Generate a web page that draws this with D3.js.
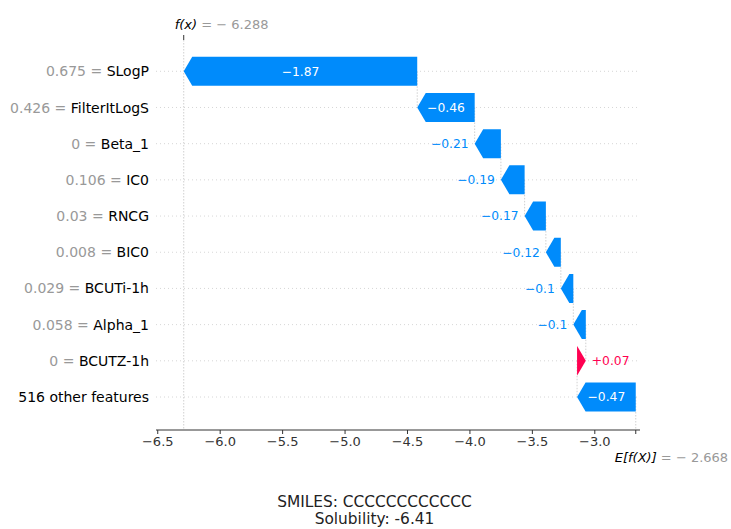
<!DOCTYPE html>
<html>
<head>
<meta charset="utf-8">
<title>waterfall</title>
<style>
  body { margin: 0; background: #fff; }
  svg { font-family: "DejaVu Sans", sans-serif; }
</style>
</head>
<body>
<script src="https://cdn.jsdelivr.net/npm/d3@7/dist/d3.min.js"></script>
<script>
var W = 731, H = 529;

// data
var features = ["SLogP", "FilterItLogS", "Beta_1", "IC0", "RNCG", "BIC0", "BCUTi-1h", "Alpha_1", "BCUTZ-1h", "516 other features"];
var featureValues = ["0.675", "0.426", "0", "0.106", "0.03", "0.008", "0.029", "0.058", "0", null];
var shapValues = [-1.87, -0.46, -0.21, -0.19, -0.17, -0.12, -0.1, -0.1, 0.07, -0.47];
var baseValue = -2.668;
var fxValue = -6.288;
var xTicks = [-6.5, -6.0, -5.5, -5.0, -4.5, -4.0, -3.5, -3.0];
var footer = ["SMILES: CCCCCCCCCCCC", "Solubility: -6.41"];

var blue = "#008bfb", red = "#ff0051";

var svg = d3.select("body").append("svg")
  .attr("width", W).attr("height", H);
svg.append("rect").attr("width", W).attr("height", H).attr("fill", "#fff");

var axTop = 40, axBottom = 430, axLeft = 156, axRight = 640;

var x = d3.scaleLinear().domain([-6.51, -2.634]).range([axLeft, axRight]);
var y = d3.scaleLinear().domain([0, features.length - 1]).range([71.3, 397]);
var barH = 29;

// cumulative positions, built from the bottom (base value) upward
var bars = [];
var run = baseValue;
for (var i = features.length - 1; i >= 0; i--) {
  var start = run, end = run + shapValues[i];
  bars[i] = { i: i, v: shapValues[i], start: start, end: end };
  run = end;
}

// row grid lines
svg.append("g").selectAll("line").data(features).enter().append("line")
  .attr("x1", axLeft).attr("x2", axRight)
  .attr("y1", function(d, i) { return y(i); })
  .attr("y2", function(d, i) { return y(i); })
  .attr("stroke", "#cccccc").attr("stroke-width", 0.8)
  .attr("stroke-dasharray", "1,3");

// f(x) and E[f(X)] lines
svg.append("line")
  .attr("x1", x(fxValue)).attr("x2", x(fxValue))
  .attr("y1", axTop).attr("y2", axBottom)
  .attr("stroke", "#bbbbbb").attr("stroke-width", 0.7).attr("stroke-dasharray", "1.5,1.5");
svg.append("line")
  .attr("x1", x(baseValue)).attr("x2", x(baseValue))
  .attr("y1", y(features.length - 1)).attr("y2", axBottom)
  .attr("stroke", "#bbbbbb").attr("stroke-width", 0.7).attr("stroke-dasharray", "1.5,1.5");

// connectors between rows
svg.append("g").selectAll("line").data(bars.slice(0, bars.length - 1)).enter().append("line")
  .attr("x1", function(d) { return x(d.start); })
  .attr("x2", function(d) { return x(d.start); })
  .attr("y1", function(d) { return y(d.i); })
  .attr("y2", function(d) { return y(d.i + 1); })
  .attr("stroke", "#bbbbbb").attr("stroke-width", 0.7).attr("stroke-dasharray", "1.5,1.5");

// arrow bars
function arrow(d) {
  var cy = y(d.i), t = cy - barH / 2, b = cy + barH / 2;
  var l = x(Math.min(d.start, d.end)), r = x(Math.max(d.start, d.end));
  var hl = Math.min(r - l, 8.5);
  if (d.v < 0) {
    return [[r, t], [l + hl, t], [l, cy], [l + hl, b], [r, b]];
  }
  return [[l, t], [r - hl, t], [r, cy], [r - hl, b], [l, b]];
}
svg.append("g").selectAll("polygon").data(bars).enter().append("polygon")
  .attr("points", function(d) { return arrow(d).join(" "); })
  .attr("fill", function(d) { return d.v < 0 ? blue : red; });

// bar labels
function fmt(v) {
  var s = Math.abs(v).toString();
  return (v < 0 ? "\u2212" : "+") + s;
}
svg.append("g").selectAll("text").data(bars).enter().append("text")
  .attr("font-size", 12.3)
  .attr("dy", "0.36em")
  .attr("y", function(d) { return y(d.i); })
  .text(function(d) { return fmt(d.v); })
  .each(function(d) {
    var t = d3.select(this);
    var l = x(Math.min(d.start, d.end)), r = x(Math.max(d.start, d.end));
    var tw = this.getComputedTextLength();
    if (tw + 6 < r - l) {
      t.attr("x", (l + r) / 2).attr("text-anchor", "middle").attr("fill", "#fff");
    } else if (d.v < 0) {
      t.attr("x", l - 6).attr("text-anchor", "end").attr("fill", blue);
    } else {
      t.attr("x", r + 6).attr("text-anchor", "start").attr("fill", red);
    }
  });

// feature labels
var fl = svg.append("g").selectAll("text").data(features).enter().append("text")
  .attr("x", 149)
  .attr("y", function(d, i) { return y(i); })
  .attr("dy", "0.36em")
  .attr("text-anchor", "end")
  .attr("font-size", 14);
fl.append("tspan").attr("fill", "#999999")
  .text(function(d, i) { return featureValues[i] === null ? "" : featureValues[i] + " = "; });
fl.append("tspan").attr("fill", "#000")
  .text(function(d) { return d; });

// bottom axis
var xAxis = d3.axisBottom(x).tickValues(xTicks).tickSize(4).tickPadding(3)
  .tickFormat(function(d) { return d3.format(".1f")(d).replace("-", "\u2212"); });
var gx = svg.append("g").attr("transform", "translate(0," + axBottom + ")").call(xAxis);
gx.select(".domain").attr("stroke", "#333").attr("d", "M" + axLeft + ",0H" + axRight);
gx.selectAll(".tick line").attr("stroke", "#333");
gx.selectAll(".tick text").attr("fill", "#333").attr("font-size", 13)
  .attr("font-family", "DejaVu Sans, sans-serif");

// base value tick + label
svg.append("line")
  .attr("x1", x(baseValue)).attr("x2", x(baseValue))
  .attr("y1", axBottom).attr("y2", axBottom + 4)
  .attr("stroke", "#333");
var el = svg.append("text").attr("x", x(baseValue) - 21).attr("y", 462).attr("font-size", 13);
el.append("tspan").attr("fill", "#000").attr("font-style", "italic").text("E[f(X)]");
el.append("tspan").attr("fill", "#999999").text(" = \u2212 " + Math.abs(baseValue).toFixed(3));

// f(x) tick + label
svg.append("line")
  .attr("x1", x(fxValue)).attr("x2", x(fxValue))
  .attr("y1", axTop - 5).attr("y2", axTop)
  .attr("stroke", "#333");
var ft = svg.append("text").attr("x", x(fxValue) - 9).attr("y", 29).attr("font-size", 13);
ft.append("tspan").attr("fill", "#000").attr("font-style", "italic").text("f(x)");
ft.append("tspan").attr("fill", "#999999").text(" = \u2212 " + Math.abs(fxValue).toFixed(3));

// footer text
svg.append("g").selectAll("text").data(footer).enter().append("text")
  .attr("x", 374.5)
  .attr("y", function(d, i) { return 507 + i * 17; })
  .attr("text-anchor", "middle")
  .attr("font-size", 15.4)
  .attr("fill", "#222")
  .text(function(d) { return d; });
</script>
</body>
</html>
